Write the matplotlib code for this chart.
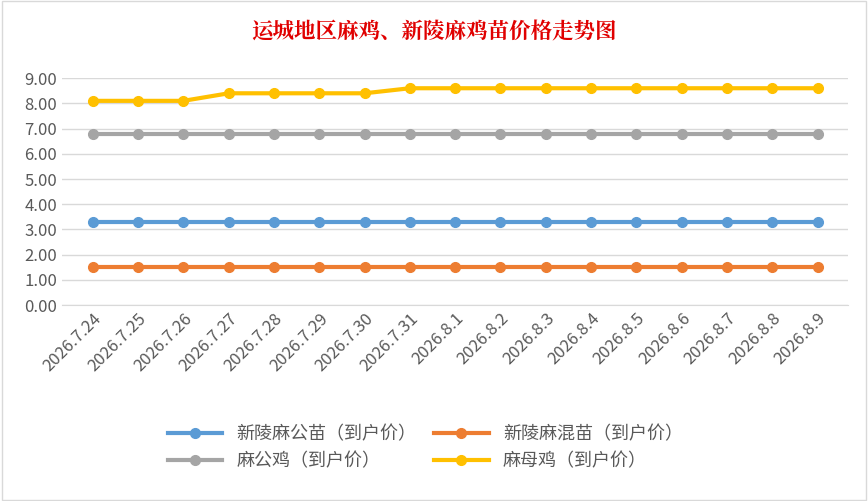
import matplotlib.pyplot as plt
from matplotlib.patches import Rectangle
plt.rcParams['font.family'] = ['Noto Sans CJK SC', 'DejaVu Sans']

dates = ["2026.7.24","2026.7.25","2026.7.26","2026.7.27","2026.7.28","2026.7.29","2026.7.30","2026.7.31",
         "2026.8.1","2026.8.2","2026.8.3","2026.8.4","2026.8.5","2026.8.6","2026.8.7","2026.8.8","2026.8.9"]
blue = [3.3]*17
orange = [1.5]*17
grey = [6.8]*17
yellow = [8.1,8.1,8.1,8.4,8.4,8.4,8.4,8.6,8.6,8.6,8.6,8.6,8.6,8.6,8.6,8.6,8.6]
names = ["新陵麻公苗（到户价）","新陵麻混苗（到户价）","麻公鸡（到户价）","麻母鸡（到户价）"]
colors = ["#5B9BD5","#ED7D31","#A5A5A5","#FFC000"]

fig = plt.figure(figsize=(8.68,5.01), dpi=100)
fig.patches.append(Rectangle((0.002,0.002),0.996,0.996,transform=fig.transFigure,fill=False,ec="#D9D9D9",lw=1))
ax = fig.add_axes([0.0714,0.391,0.906,0.453])
x = list(range(len(dates)))
lines = []
for s,c,n in zip([blue,orange,grey,yellow],colors,names):
    l, = ax.plot(x,s,color=c,lw=3,marker='o',ms=7,label=n)
    lines.append(l)
ax.set_xlim(-0.68,16.68)
ax.set_ylim(0,9)
ax.set_yticks([i for i in range(10)])
ax.set_yticklabels([f"{i:.2f}" for i in range(10)],fontsize=12,color="#595959")
ax.set_xticks(x)
ax.set_xticklabels(dates,rotation=45,ha='right',rotation_mode='anchor',fontsize=12,color="#595959")
ax.grid(axis='y',color="#D9D9D9",lw=1)
ax.set_axisbelow(True)
for sp in ['top','right','left']:
    ax.spines[sp].set_visible(False)
ax.spines['bottom'].set_color("#D9D9D9")
ax.tick_params(length=0)
fig.text(0.5,0.935,"运城地区麻鸡、新陵麻鸡苗价格走势图",ha='center',va='center',fontsize=15.5,color="#E00000",fontweight='bold',family=['Noto Serif CJK SC','Noto Sans CJK SC'])
order = [0,2,1,3]
fig.legend([lines[i] for i in order],[names[i] for i in order],loc='center',bbox_to_anchor=(0.49,0.106),ncol=2,frameon=False,fontsize=13,handlelength=3,columnspacing=1.0,labelcolor="#595959",labelspacing=0.5)
fig.savefig("out.png")
